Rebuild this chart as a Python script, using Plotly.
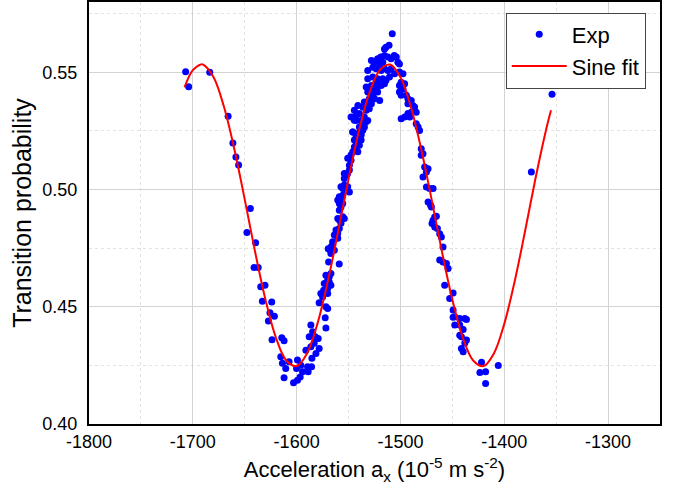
import plotly.graph_objects as go

# Experimental points (x: acceleration in 1e-5 m/s^2, y: transition probability)
exp_x = [
    -1706.9, -1704.0, -1683.7, -1666.0, -1661.4, -1658.5, -1655.9, -1644.6, -1647.9, -1639.5, -1641.0, -1637.0,
    -1634.6, -1630.5, -1633.0, -1624.0, -1625.7, -1621.4, -1627.2, -1623.7, -1614.3, -1612.1, -1615.3, -1613.7,
    -1607.3, -1610.5, -1612.1, -1599.2, -1596.0, -1600.1, -1594.3, -1596.6, -1599.2, -1603.0, -1589.5, -1585.6,
    -1588.9, -1591.1, -1586.3, -1587.9, -1584.6, -1582.1, -1586.3, -1585.3, -1581.4, -1578.3, -1579.2, -1583.1,
    -1571.8, -1572.5, -1570.1, -1571.8, -1578.3, -1575.0, -1574.0, -1570.1, -1568.6, -1571.8, -1567.0, -1569.2,
    -1567.6, -1565.3, -1567.0, -1559.0, -1576.7, -1570.1, -1567.0, -1573.4, -1570.1, -1568.6, -1565.3, -1569.6,
    -1567.0, -1563.7,
    -1563.7, -1560.4, -1562.1, -1558.9, -1560.4, -1558.9, -1557.3, -1555.6, -1554.1, -1560.4, -1558.9, -1557.3,
    -1555.6, -1558.9, -1560.4, -1557.3, -1555.6, -1558.9, -1555.6, -1554.1, -1557.3, -1552.4, -1550.8, -1549.2,
    -1554.1, -1552.4, -1550.8, -1554.1, -1549.2, -1549.2, -1547.6, -1550.8, -1547.6, -1545.9, -1542.7, -1541.1,
    -1544.4, -1539.6, -1542.7, -1544.4, -1539.6, -1537.9, -1545.9, -1541.1, -1537.9, -1536.3, -1536.3, -1534.7,
    -1533.1, -1544.4,
    -1507.9, -1514.0, -1511.0, -1515.4, -1528.0, -1525.0, -1522.0, -1519.0, -1515.4, -1512.0, -1509.0, -1506.0,
    -1504.0, -1502.5, -1501.0, -1520.0, -1517.0, -1531.5, -1526.6, -1523.4, -1518.6, -1515.4, -1512.0, -1509.0,
    -1505.7, -1501.0, -1497.6, -1531.5, -1526.6, -1522.0, -1517.0, -1514.0, -1510.6, -1523.4, -1520.0, -1515.4,
    -1533.0, -1530.0, -1525.0, -1522.0, -1518.6, -1528.0, -1499.3, -1501.0, -1496.0, -1497.6, -1531.5, -1526.6,
    -1522.0, -1520.0, -1525.0, -1530.0, -1501.0, -1499.3, -1494.4, -1492.8, -1489.6, -1534.8, -1531.5, -1528.0,
    -1536.3, -1533.0, -1530.0, -1492.8, -1488.0, -1486.4, -1541.0, -1544.4, -1547.6, -1542.7, -1539.6, -1534.8,
    -1531.5, -1538.0, -1542.7, -1499.3, -1496.0, -1491.0, -1492.8, -1489.6, -1484.8, -1483.0, -1481.6, -1484.8,
    -1546.0, -1542.7, -1538.0, -1539.6, -1536.3,
    -1480.0, -1478.3, -1480.0, -1476.7, -1473.4, -1475.0, -1478.3, -1475.0, -1471.9, -1468.6, -1473.4, -1471.0,
    -1470.2, -1467.0, -1465.4, -1468.6, -1469.6, -1467.0, -1464.4, -1462.2, -1460.6, -1459.0, -1462.2, -1459.0,
    -1455.7, -1454.1, -1457.4, -1452.6, -1449.3, -1447.7, -1442.9, -1438.0,
    -1449.3, -1449.3, -1436.4, -1447.7, -1442.9, -1439.6, -1442.9, -1441.3, -1436.4, -1438.0, -1441.3, -1439.6,
    -1421.9, -1423.5, -1418.0, -1405.8, -1418.0,
    -1373.9, -1354.0,
]
exp_y = [
    0.5503, 0.5438, 0.5500, 0.5313, 0.5199, 0.5139, 0.5105, 0.4919, 0.4817, 0.4773, 0.4668, 0.4668,
    0.4585, 0.4592, 0.4524, 0.4520, 0.4474, 0.4460, 0.4439, 0.4359, 0.4368, 0.4355, 0.4287, 0.4259,
    0.4265, 0.4237, 0.4197, 0.4273, 0.4251, 0.4237, 0.4223, 0.4201, 0.4187, 0.4176, 0.4244, 0.4244,
    0.4223, 0.4315, 0.4329, 0.4372, 0.4393, 0.4372, 0.4422, 0.4280, 0.4301, 0.4322, 0.4365, 0.4344,
    0.4410, 0.4453, 0.4493, 0.4500, 0.4517, 0.4542, 0.4571, 0.4578, 0.4606, 0.4635, 0.4642, 0.4691,
    0.4741, 0.4763, 0.4755, 0.4682, 0.4557, 0.4557, 0.4592, 0.4599, 0.4613, 0.4627, 0.4777, 0.4748,
    0.4727, 0.4741,
    0.4806, 0.4813, 0.4827, 0.4834, 0.4792, 0.4870, 0.4856, 0.4884, 0.4877, 0.4877, 0.4912, 0.4926,
    0.4941, 0.4941, 0.4955, 0.4962, 0.4976, 0.4969, 0.5005, 0.5019, 0.5012, 0.4997, 0.5012, 0.4990,
    0.5047, 0.5061, 0.5069, 0.5069, 0.5083, 0.5104, 0.5125, 0.5133, 0.5147, 0.5161, 0.5168, 0.5161,
    0.5182, 0.5189, 0.5203, 0.5211, 0.5218, 0.5211, 0.5246, 0.5239, 0.5232, 0.5253, 0.5274, 0.5267,
    0.5289, 0.5296,
    0.5665, 0.5607, 0.5615, 0.5600, 0.5551, 0.5543, 0.5558, 0.5565, 0.5572, 0.5565, 0.5558, 0.5572,
    0.5565, 0.5543, 0.5536, 0.5536, 0.5543, 0.5508, 0.5522, 0.5515, 0.5508, 0.5515, 0.5508, 0.5515,
    0.5494, 0.5501, 0.5494, 0.5473, 0.5480, 0.5473, 0.5473, 0.5465, 0.5480, 0.5458, 0.5451, 0.5451,
    0.5437, 0.5430, 0.5423, 0.5437, 0.5444, 0.5444, 0.5458, 0.5444, 0.5451, 0.5430, 0.5416, 0.5402,
    0.5416, 0.5380, 0.5387, 0.5387, 0.5416, 0.5402, 0.5402, 0.5387, 0.5380, 0.5373, 0.5359, 0.5366,
    0.5352, 0.5338, 0.5345, 0.5366, 0.5359, 0.5352, 0.5359, 0.5338, 0.5309, 0.5316, 0.5324, 0.5309,
    0.5295, 0.5295, 0.5295, 0.5302, 0.5309, 0.5309, 0.5324, 0.5330, 0.5330, 0.5267, 0.5252, 0.5281,
    0.5245, 0.5231, 0.5238, 0.5267, 0.5267,
    0.5174, 0.5153, 0.5146, 0.5096, 0.5089, 0.5075, 0.5054, 0.5011, 0.5004, 0.5004, 0.4947, 0.4933,
    0.4926, 0.4883, 0.4886, 0.4869, 0.4855, 0.4840, 0.4834, 0.4812, 0.4798, 0.4755, 0.4699, 0.4691,
    0.4685, 0.4663, 0.4592, 0.4535, 0.4486, 0.4457, 0.4450, 0.4450,
    0.4559, 0.4455, 0.4446, 0.4422, 0.4422, 0.4403, 0.4379, 0.4372, 0.4358, 0.4346, 0.4322, 0.4308,
    0.4263, 0.4220, 0.4223, 0.4250, 0.4173,
    0.5075, 0.5406,
]

# Sine-fit curve
fit_x = [-1708, -1700, -1692, -1690, -1680, -1670, -1660, -1650, -1640, -1630, -1620, -1610, -1600,
         -1590, -1580, -1570, -1560, -1550, -1540, -1530, -1520, -1510, -1500, -1490, -1480, -1470,
         -1460, -1450, -1440, -1430, -1420, -1410, -1400, -1390, -1380, -1370, -1360, -1355]
fit_y = [0.5436, 0.5509, 0.5534, 0.5533, 0.5479, 0.5353, 0.5172, 0.4958, 0.4734, 0.4530, 0.4369, 0.4271,
         0.4247, 0.4301, 0.4427, 0.4608, 0.4822, 0.5046, 0.5250, 0.5411, 0.5509, 0.5533, 0.5479, 0.5353,
         0.5172, 0.4958, 0.4734, 0.4530, 0.4369, 0.4271, 0.4247, 0.4301, 0.4427, 0.4608, 0.4822, 0.5046,
         0.5250, 0.5338]

x_ticks = [-1800, -1700, -1600, -1500, -1400, -1300]
x_ticktext = ["-1800", "-1700", "-1600", "-1500", "-1400", "-1300"]
y_ticks = [0.40, 0.45, 0.50, 0.55]
y_ticktext = ["0.40", "0.45", "0.50", "0.55"]

FONT = "Liberation Sans, Arial, sans-serif"

fig = go.Figure()
fig.add_trace(go.Scatter(x=exp_x, y=exp_y, mode="markers", name="Exp",
                         marker=dict(color="#0000ff", size=7, line=dict(width=0))))
fig.add_trace(go.Scatter(x=fit_x, y=fit_y, mode="lines", name="Sine fit",
                         line=dict(color="#ff0000", width=2, shape="spline")))

axis_common = dict(
    showline=True, linecolor="black", linewidth=2, mirror=True,
    showgrid=True, gridcolor="#d3d3d3", gridwidth=1,
    zeroline=False, ticks="", tickfont=dict(family=FONT, size=18, color="black"),
)

fig.update_xaxes(
    range=[-1800, -1250], tickmode="array", tickvals=x_ticks, ticktext=x_ticktext,
    minor=dict(showgrid=True, gridcolor="#e2e2e2", griddash="dot", dtick=50, tick0=-1750),
    title=dict(text="Acceleration a<sub>x</sub> (10<sup>-5</sup> m s<sup>-2</sup>)",
               font=dict(family=FONT, size=22, color="black"), standoff=11),
    **axis_common,
)
fig.update_yaxes(
    range=[0.40, 0.58], tickmode="array", tickvals=y_ticks, ticktext=y_ticktext,
    ticklabelstandoff=6,
    minor=dict(showgrid=True, gridcolor="#e2e2e2", griddash="dot", dtick=0.05, tick0=0.425),
    title=dict(text="Transition probability", font=dict(family=FONT, size=25, color="black"), standoff=4),
    **axis_common,
)

fig.update_layout(
    width=674, height=498,
    margin=dict(l=89, r=14, t=2, b=74, autoexpand=False),
    plot_bgcolor="white", paper_bgcolor="white",
    showlegend=True,
    legend=dict(x=0.975, y=0.975, xanchor="right", yanchor="top",
                bgcolor="white", bordercolor="#444444", borderwidth=1,
                font=dict(family=FONT, size=22, color="black"),
                itemwidth=55, tracegroupgap=0),
)

fig.write_html("out.html", config={"displayModeBar": False},
               post_script="document.body.style.margin='0';")
